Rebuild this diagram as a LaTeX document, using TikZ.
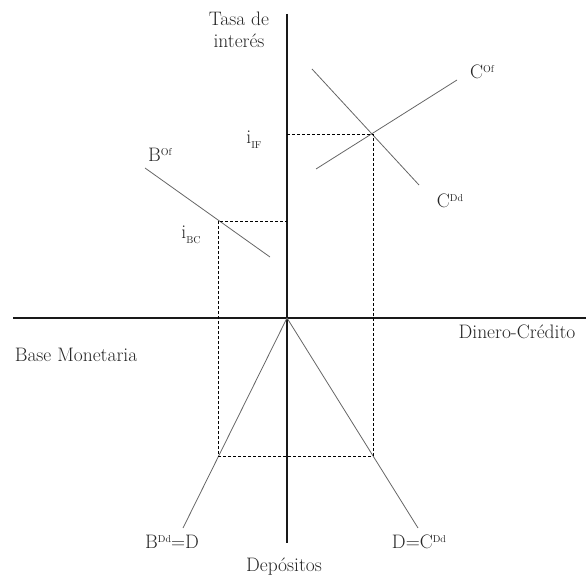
\documentclass[tikz,border=0pt]{standalone}
\newcommand{\supx}[1]{\raisebox{0.75ex}{\fontsize{10}{11}\selectfont #1}}
\newcommand{\subx}[1]{\raisebox{-0.55ex}{\fontsize{10}{11}\selectfont #1}}
\begin{document}
\begin{tikzpicture}[x=1pt,y=-1pt,
  axis/.style={line width=1.2pt,black!90},
  curve/.style={line width=0.8pt,black!60},
  guide/.style={line width=0.7pt,black,dash pattern=on 3pt off 2pt},
  lab/.style={font=\fontsize{19.5}{21}\selectfont,text=black!85,inner sep=0pt}]
\useasboundingbox (0,0) rectangle (587,580);
% axes
\coordinate (ytop) at (287,14);
\coordinate (ybot) at (287,543);
\coordinate (xl) at (13,318);
\coordinate (xr) at (586,318);
\coordinate (O) at (287,318);
\draw[axis] (ytop) -- (ybot);
\draw[axis] (xl) -- (xr);
% credit market
\coordinate (cdd1) at (312,69);
\coordinate (cdd2) at (419,185);
\coordinate (cof1) at (316,169);
\coordinate (cof2) at (457,80);
\coordinate (E1) at (373,134);
\draw[curve] (cdd1) -- (cdd2);
\draw[curve] (cof1) -- (cof2);
% base market
\coordinate (bof1) at (145,168);
\coordinate (bof2) at (270,257);
\coordinate (E2) at (218,221);
\draw[curve] (bof1) -- (bof2);
% deposits
\coordinate (dl) at (183,528);
\coordinate (dr) at (418,528);
\draw[curve] (O) -- (dl);
\draw[curve] (O) -- (dr);
% guides
\coordinate (iIF) at (287,134);
\coordinate (iBC) at (287,221);
\coordinate (L) at (218,456);
\coordinate (R) at (373,456);
\draw[guide] (iIF) -- (E1) -- (R) -- (L) -- (E2) -- (iBC);
% labels
\node[lab] (tasa) at (239,19) {Tasa de};
\node[lab] (inte) at (239,41) {interés};
\node[lab] (lIF) at (254,140) {i\subx{IF}};
\node[lab] (lBC) at (191,235) {i\subx{BC}};
\node[lab] (lBof) at (160,155) {B\supx{Of}};
\node[lab] (lCof) at (482,72) {C\supx{Of}};
\node[lab] (lCdd) at (450,201) {C\supx{Dd}};
\node[lab] (dc) at (517,332) {Dinero-Crédito};
\node[lab] (bm) at (76,355) {Base Monetaria};
\node[lab] (bdd) at (172,542) {B\supx{Dd}=D};
\node[lab] (dcdd) at (419,542) {D=C\supx{Dd}};
\node[lab] (dep) at (284,567) {Depósitos};
\end{tikzpicture}
\end{document}
